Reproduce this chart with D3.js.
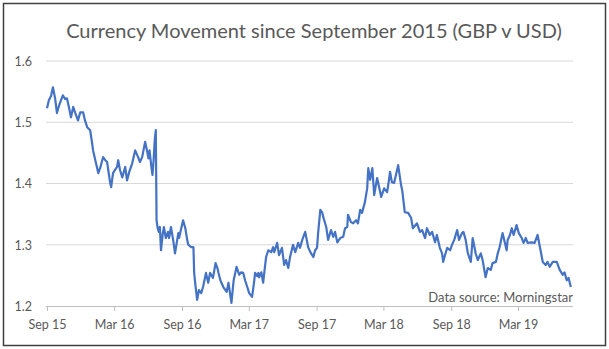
<!DOCTYPE html>
<html>
<head>
<meta charset="utf-8">
<script src="https://cdn.jsdelivr.net/npm/d3@7"></script>
<style>
  html, body { margin: 0; padding: 0; background: #fff; }
  svg { display: block; }
</style>
</head>
<body>
<svg id="chart" width="609" height="349"></svg>
<script>
// GBP v USD exchange rate, Sep 2015 – Jul 2019
const dates = [
  "2015-09-01","2015-09-06","2015-09-12","2015-09-17","2015-09-23","2015-09-28","2015-10-03","2015-10-09",
  "2015-10-14","2015-10-20","2015-10-25","2015-10-31","2015-11-05","2015-11-11","2015-11-16","2015-11-24",
  "2015-11-30","2015-12-08","2015-12-13","2015-12-19","2015-12-27","2016-01-01","2016-01-04","2016-01-10",
  "2016-01-18","2016-01-23","2016-01-31","2016-02-06","2016-02-11","2016-02-14","2016-02-19","2016-02-22",
  "2016-02-27","2016-03-03","2016-03-09","2016-03-12","2016-03-17","2016-03-23","2016-03-31","2016-04-05",
  "2016-04-11","2016-04-19","2016-04-27","2016-05-05","2016-05-10","2016-05-16","2016-05-24","2016-05-30",
  "2016-06-02","2016-06-05","2016-06-10","2016-06-13","2016-06-16","2016-06-19","2016-06-22","2016-06-24",
  "2016-06-27","2016-06-30","2016-07-03","2016-07-06","2016-07-11","2016-07-14","2016-07-19","2016-07-25",
  "2016-07-28","2016-08-02","2016-08-08","2016-08-13","2016-08-19","2016-08-22","2016-08-24","2016-08-30",
  "2016-09-04","2016-09-10","2016-09-15","2016-09-18","2016-09-26","2016-10-02","2016-10-04","2016-10-06",
  "2016-10-12","2016-10-17","2016-10-23","2016-10-28","2016-11-05","2016-11-11","2016-11-16","2016-11-24",
  "2016-12-01","2016-12-06","2016-12-09","2016-12-14","2016-12-22","2016-12-31","2017-01-05","2017-01-13",
  "2017-01-19","2017-01-27","2017-02-03","2017-02-08","2017-02-14","2017-02-19","2017-02-25","2017-03-02",
  "2017-03-10","2017-03-16","2017-03-18","2017-03-24","2017-03-27","2017-03-29","2017-04-04","2017-04-09",
  "2017-04-12","2017-04-17","2017-04-23","2017-05-01","2017-05-06","2017-05-09","2017-05-17","2017-05-22",
  "2017-05-30","2017-06-05","2017-06-10","2017-06-16","2017-06-21","2017-06-29","2017-07-05","2017-07-13",
  "2017-07-18","2017-07-24","2017-07-29","2017-08-01","2017-08-09","2017-08-15","2017-08-23","2017-08-28",
  "2017-09-02","2017-09-05","2017-09-11","2017-09-16","2017-09-19","2017-09-27","2017-10-02","2017-10-10",
  "2017-10-16","2017-10-21","2017-10-27","2017-11-04","2017-11-12","2017-11-17","2017-11-23","2017-11-25",
  "2017-12-03","2017-12-09","2017-12-17","2017-12-22","2017-12-28","2018-01-02","2018-01-10","2018-01-16",
  "2018-01-19","2018-01-24","2018-01-30","2018-02-04","2018-02-12","2018-02-15","2018-02-23","2018-03-03",
  "2018-03-11","2018-03-14","2018-03-19","2018-03-24","2018-03-30","2018-04-04","2018-04-10","2018-04-18",
  "2018-04-21","2018-04-28","2018-05-07","2018-05-15","2018-05-20","2018-05-31","2018-06-08","2018-06-14",
  "2018-06-22","2018-06-27","2018-07-05","2018-07-11","2018-07-19","2018-07-24","2018-08-01","2018-08-07",
  "2018-08-10","2018-08-15","2018-08-21","2018-08-29","2018-09-03","2018-09-09","2018-09-17","2018-09-22",
  "2018-09-30","2018-10-04","2018-10-10","2018-10-16","2018-10-24","2018-10-29","2018-11-06","2018-11-12",
  "2018-11-20","2018-11-25","2018-12-03","2018-12-09","2018-12-17","2018-12-22","2018-12-31","2019-01-05",
  "2019-01-10","2019-01-18","2019-01-24","2019-01-29","2019-02-01","2019-02-07","2019-02-12","2019-02-17",
  "2019-02-25","2019-03-03","2019-03-11","2019-03-16","2019-03-22","2019-03-27","2019-04-07","2019-04-15",
  "2019-04-23","2019-05-01","2019-05-07","2019-05-15","2019-05-20","2019-05-26","2019-06-03","2019-06-14",
  "2019-06-22","2019-06-30","2019-07-05","2019-07-11","2019-07-16","2019-07-22"
];
const rates = [
  1.523,1.536,1.543,1.557,1.539,1.515,1.526,1.536,
  1.544,1.538,1.539,1.523,1.508,1.525,1.516,1.503,
  1.516,1.516,1.503,1.492,1.487,1.467,1.454,1.438,
  1.417,1.425,1.443,1.438,1.435,1.422,1.402,1.394,
  1.417,1.422,1.427,1.438,1.422,1.410,1.427,1.405,
  1.419,1.433,1.454,1.443,1.435,1.443,1.468,1.451,
  1.441,1.454,1.427,1.414,1.438,1.471,1.487,1.340,
  1.327,1.321,1.329,1.291,1.319,1.329,1.311,1.321,
  1.311,1.329,1.308,1.286,1.308,1.319,1.311,1.327,
  1.340,1.327,1.308,1.300,1.296,1.296,1.254,1.242,
  1.210,1.226,1.221,1.231,1.254,1.238,1.254,1.246,
  1.270,1.262,1.254,1.242,1.231,1.223,1.238,1.205,
  1.242,1.264,1.251,1.255,1.254,1.242,1.231,1.221,
  1.215,1.242,1.254,1.249,1.254,1.247,1.255,1.238,
  1.254,1.280,1.291,1.288,1.296,1.288,1.303,1.283,
  1.295,1.267,1.275,1.262,1.280,1.300,1.288,1.303,
  1.295,1.308,1.316,1.321,1.296,1.288,1.280,1.291,
  1.295,1.319,1.357,1.353,1.345,1.329,1.308,1.324,
  1.313,1.321,1.304,1.311,1.313,1.327,1.329,1.349,
  1.337,1.335,1.340,1.335,1.357,1.352,1.370,1.392,
  1.425,1.406,1.425,1.381,1.409,1.401,1.378,1.392,
  1.386,1.397,1.419,1.402,1.401,1.414,1.430,1.397,
  1.389,1.353,1.352,1.344,1.327,1.335,1.321,1.324,
  1.311,1.327,1.316,1.321,1.304,1.316,1.295,1.286,
  1.272,1.283,1.295,1.291,1.300,1.308,1.324,1.308,
  1.319,1.321,1.308,1.286,1.272,1.311,1.286,1.275,
  1.286,1.275,1.247,1.262,1.259,1.270,1.272,1.286,
  1.296,1.319,1.304,1.291,1.308,1.316,1.327,1.316,
  1.332,1.319,1.311,1.303,1.311,1.303,1.304,1.303,
  1.316,1.291,1.272,1.267,1.272,1.264,1.272,1.272,
  1.259,1.251,1.255,1.242,1.246,1.231
];
const yTicks = [1.2, 1.3, 1.4, 1.5, 1.6];
const xTicks = ["2015-09-01","2016-03-01","2016-09-01","2017-03-01","2017-09-01","2018-03-01","2018-09-01","2019-03-01"];
const titleText = "Currency Movement since September 2015 (GBP v USD)";
const sourceText = "Data source: Morningstar";

const parse = d3.utcParse("%Y-%m-%d");
const series = dates.map((d, i) => ({ date: parse(d), value: rates[i] }));

const svg = d3.select("#chart");
const W = 609, H = 349;
const font = "Lato, 'Open Sans', sans-serif";
const textColor = "#595959";

// outer frame
svg.append("rect")
  .attr("x", 3.5).attr("y", 3.5)
  .attr("width", W - 7).attr("height", H - 7)
  .attr("fill", "#fff")
  .attr("stroke", "#404040").attr("stroke-width", 1.5);

const plot = { left: 46, right: 573, top: 61, bottom: 306 };

const x = d3.scaleUtc()
  .domain([parse("2015-09-01"), parse("2019-07-28")])
  .range([47, plot.right]);
const y = d3.scaleLinear()
  .domain([1.2, 1.6])
  .range([plot.bottom, plot.top]);

// horizontal gridlines
svg.append("g")
  .selectAll("line")
  .data(yTicks.slice(1))
  .join("line")
  .attr("x1", plot.left).attr("x2", plot.right)
  .attr("y1", d => y(d)).attr("y2", d => y(d))
  .attr("stroke", "#d9d9d9").attr("stroke-width", 1);

// y axis labels
const yAxis = svg.append("g")
  .attr("transform", `translate(${plot.left - 14},0)`)
  .call(d3.axisLeft(y).tickValues(yTicks).tickFormat(d3.format(".1f")).tickSize(0).tickPadding(0));
yAxis.select(".domain").remove();
yAxis.selectAll("text")
  .attr("fill", textColor)
  .style("font-family", font)
  .style("font-size", "12.5px")
  .attr("dy", "0.35em");

// x axis
const xAxis = svg.append("g")
  .attr("transform", `translate(0,${plot.bottom})`)
  .call(d3.axisBottom(x)
    .tickValues(xTicks.map(parse))
    .tickFormat(d3.utcFormat("%b %y"))
    .tickSizeOuter(0)
    .tickSize(5)
    .tickPadding(9));
xAxis.select(".domain")
  .attr("d", `M${plot.left},0.5H${plot.right}`)
  .attr("stroke", "#bfbfbf");
xAxis.selectAll(".tick line").attr("stroke", "#bfbfbf");
xAxis.selectAll("text")
  .attr("fill", textColor)
  .style("font-family", font)
  .style("font-size", "12.5px");

// rate line
const line = d3.line()
  .x(d => x(d.date))
  .y(d => y(d.value));
svg.append("path")
  .datum(series)
  .attr("fill", "none")
  .attr("stroke", "#4472c4")
  .attr("stroke-width", 2.2)
  .attr("stroke-linejoin", "round")
  .attr("d", line);

// title
svg.append("text")
  .attr("x", 314).attr("y", 38)
  .attr("text-anchor", "middle")
  .attr("fill", textColor)
  .style("font-family", font)
  .style("font-size", "20px")
  .text(titleText);

// source note
svg.append("text")
  .attr("x", plot.right).attr("y", 302)
  .attr("text-anchor", "end")
  .attr("fill", textColor)
  .style("font-family", font)
  .style("font-size", "13px")
  .text(sourceText);
</script>
</body>
</html>
